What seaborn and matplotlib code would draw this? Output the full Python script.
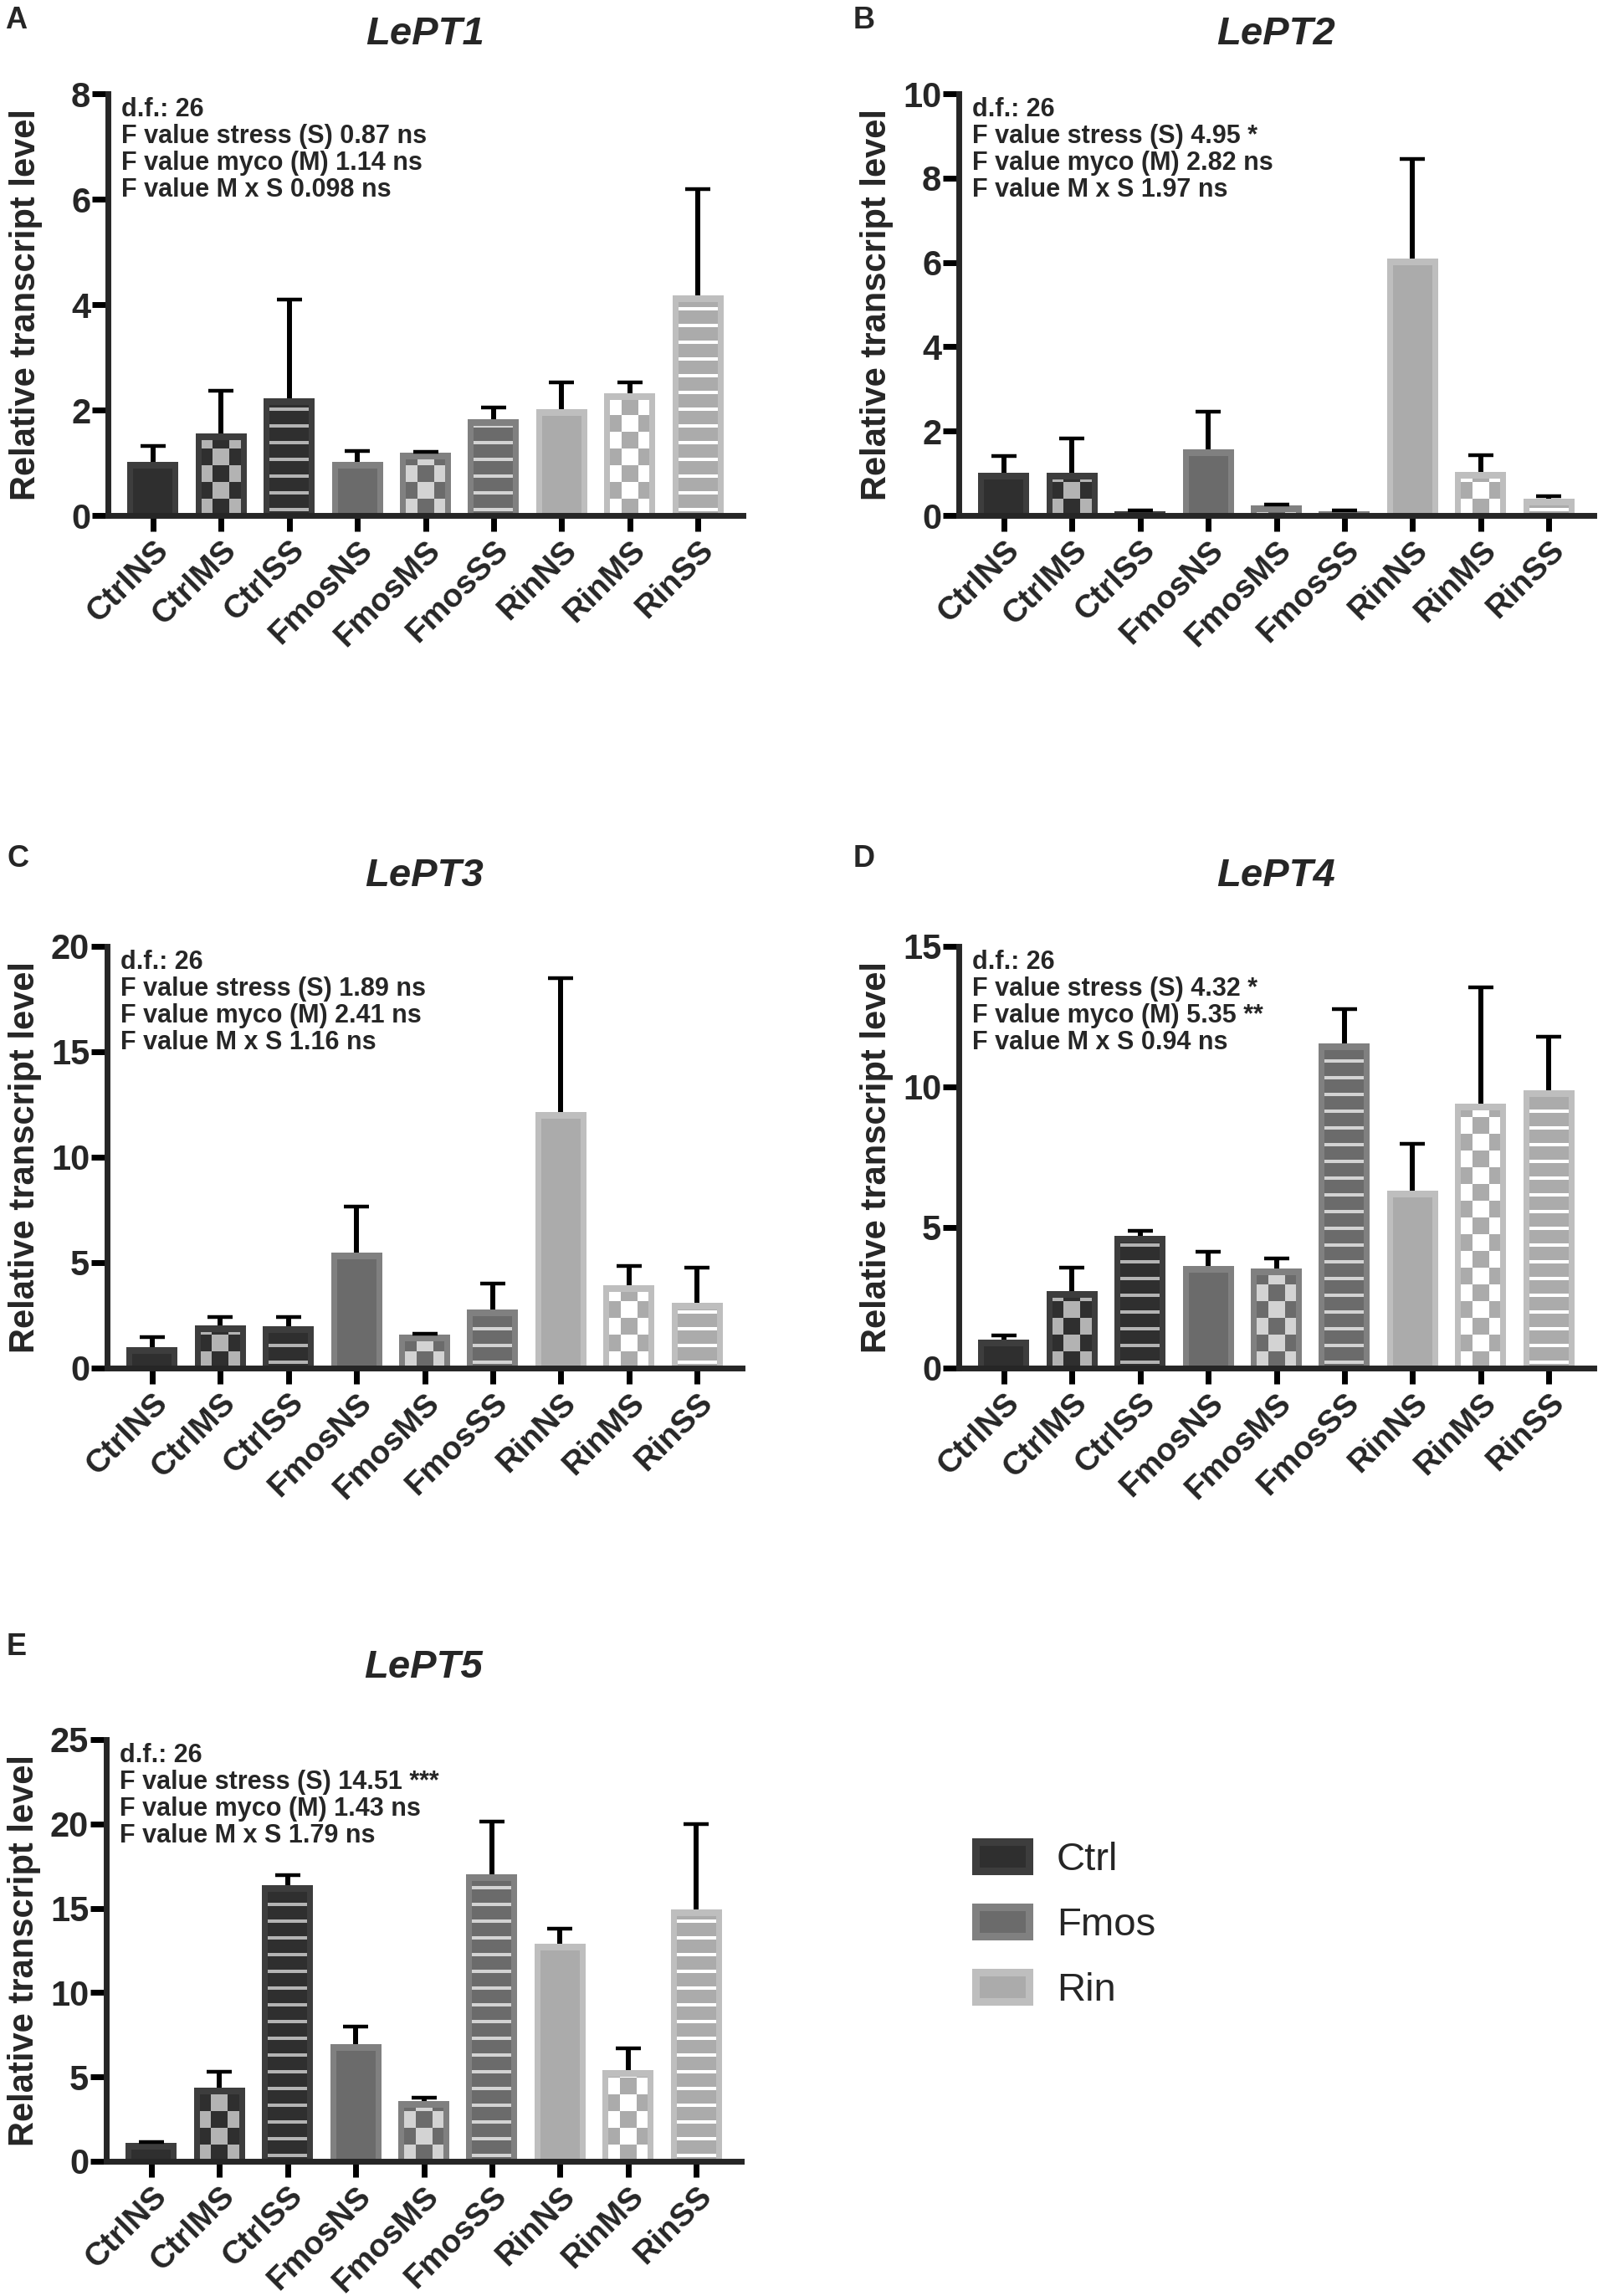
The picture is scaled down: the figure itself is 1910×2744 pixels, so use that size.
import numpy as np
import pandas as pd
import seaborn as sns
import matplotlib.pyplot as plt
from matplotlib.patches import Rectangle, Patch

# ---- data ----
conditions = ["CtrlNS", "CtrlMS", "CtrlSS", "FmosNS", "FmosMS", "FmosSS", "RinNS", "RinMS", "RinSS"]
groups = ["Ctrl"] * 3 + ["Fmos"] * 3 + ["Rin"] * 3
stress = ["NS", "MS", "SS"] * 3

lept1_mean = [1.02, 1.55, 2.22, 1.01, 1.19, 1.83, 2.01, 2.31, 4.17]
lept1_se = [0.29, 0.81, 1.87, 0.22, 0.02, 0.22, 0.51, 0.21, 2.02]
lept2_mean = [1.02, 1.02, 0.10, 1.56, 0.23, 0.10, 6.09, 1.04, 0.40]
lept2_se = [0.38, 0.80, 0.01, 0.91, 0.02, 0.01, 2.36, 0.38, 0.06]
lept3_mean = [1.01, 2.02, 1.98, 5.47, 1.58, 2.79, 12.15, 3.91, 3.10]
lept3_se = [0.47, 0.41, 0.45, 2.18, 0.04, 1.20, 6.33, 0.95, 1.66]
lept4_mean = [1.00, 2.74, 4.71, 3.62, 3.54, 11.55, 6.31, 9.39, 9.89]
lept4_se = [0.16, 0.83, 0.17, 0.53, 0.35, 1.23, 1.67, 4.15, 1.90]
lept5_mean = [1.07, 4.35, 16.35, 6.96, 3.55, 17.01, 12.88, 5.41, 14.93]
lept5_se = [0.05, 0.98, 0.61, 1.04, 0.21, 3.15, 0.93, 1.28, 5.07]

lept1_stats = ["d.f.: 26", "F value stress (S) 0.87 ns", "F value myco (M) 1.14 ns", "F value M x S 0.098 ns"]
lept2_stats = ["d.f.: 26", "F value stress (S) 4.95 *", "F value myco (M) 2.82 ns", "F value M x S 1.97 ns"]
lept3_stats = ["d.f.: 26", "F value stress (S) 1.89 ns", "F value myco (M) 2.41 ns", "F value M x S 1.16 ns"]
lept4_stats = ["d.f.: 26", "F value stress (S) 4.32 *", "F value myco (M) 5.35 **", "F value M x S 0.94 ns"]
lept5_stats = ["d.f.: 26", "F value stress (S) 14.51 ***", "F value myco (M) 1.43 ns", "F value M x S 1.79 ns"]

# colours: outer border, inner fill, pattern
edge_col = {"Ctrl": "#3d3d3d", "Fmos": "#808080", "Rin": "#bebebe"}
fill_col = {"Ctrl": "#2f2f2f", "Fmos": "#6b6b6b", "Rin": "#ababab"}
pat_col = {"Ctrl": "#b3b3b3", "Fmos": "#d3d3d3", "Rin": "#ffffff"}

W, H = 1910, 2744
NARROW = ["Liberation Sans Narrow", "Liberation Sans", "DejaVu Sans"]
ARIAL = ["Liberation Sans", "DejaVu Sans"]

sns.set_style("ticks")
plt.rcParams["font.family"] = ARIAL


def px_rect(left, top, right, bottom):
    return [left / W, 1 - bottom / H, (right - left) / W, (bottom - top) / H]


def draw_panel(ax, means, ses, ymax, ystep, stats):
    df = pd.DataFrame({"cond": conditions, "group": groups, "mean": means})
    sns.barplot(data=df, x="cond", y="mean", hue="group", palette=edge_col,
                dodge=False, width=0.75, saturation=1, errorbar=None,
                legend=False, linewidth=0, ax=ax)
    ax.set_xlim(-0.66, 8.66)
    ax.set_ylim(0, ymax)

    pos = ax.get_position()
    dx = 9.32 / (pos.width * W)   # data units per pixel
    dy = ymax / (pos.height * H)

    for p in list(ax.patches):
        xc = p.get_x() + p.get_width() / 2
        i = int(round(xc))
        g, st = groups[i], stress[i]
        x0 = p.get_x() + 7 * dx
        w = p.get_width() - 14 * dx
        h = max(p.get_height() - 8 * dy, 0)
        inner = Rectangle((x0, 0), w, h, facecolor=fill_col[g], edgecolor="none", zorder=2.1)
        ax.add_patch(inner)
        if st == "SS":
            y = 5 * dy
            while y < h:
                r = Rectangle((x0, y), w, 4 * dy, facecolor=pat_col[g], edgecolor="none", zorder=2.2)
                ax.add_patch(r)
                r.set_clip_path(inner)
                y += 20 * dy
        elif st == "MS":
            sx, sy = 20 * dx, 20 * dy
            nrow = int(h / sy) + 1
            for j in range(-2, 3):
                for k in range(nrow):
                    if (j + k) % 2 == 1:
                        r = Rectangle((xc - sx / 2 + j * sx, k * sy), sx, sy,
                                      facecolor=pat_col[g], edgecolor="none", zorder=2.2)
                        ax.add_patch(r)
                        r.set_clip_path(inner)

    eb = ax.errorbar(np.arange(9), means, yerr=[np.zeros(9), ses], fmt="none",
                     ecolor="black", elinewidth=4.3, capsize=11, capthick=3.2, zorder=5)
    for cl in eb[1]:
        if np.allclose(cl.get_ydata(), means):
            cl.set_visible(False)

    sns.despine(ax=ax)
    for s in ["left", "bottom"]:
        ax.spines[s].set_linewidth(5)
        ax.spines[s].set_capstyle("projecting")
    ax.tick_params(axis="both", length=14, width=5, color="black")
    ax.tick_params(axis="y", pad=1)
    ax.tick_params(axis="x", pad=3)
    ax.set_yticks(np.arange(0, ymax + 0.01, ystep))
    ax.set_yticklabels([f"{v:g}" for v in np.arange(0, ymax + 0.01, ystep)],
                       fontsize=30, fontweight="bold", family=NARROW)
    ax.set_xticks(range(9))
    ax.set_xticklabels(conditions, rotation=45, ha="right", rotation_mode="anchor",
                       fontsize=28, fontweight="bold", family=NARROW)
    ax.set_xlabel("")
    ax.set_ylabel("Relative transcript level", fontsize=30, fontweight="bold", family=ARIAL)
    ax.yaxis.set_label_coords(-78 / 759, 0.5)

    for k, line in enumerate(stats):
        ax.text(16 / 759, 1 - (27 + 32 * k) / 504, line, transform=ax.transAxes,
                va="baseline", ha="left", fontsize=22, fontweight="bold", family=NARROW)


fig = plt.figure(figsize=(W / 100, H / 100), dpi=100)

panels = [
    ("A", "LePT1", lept1_mean, lept1_se, 8, 2, lept1_stats, (129, 112, 888, 616), 41, (6, 24)),
    ("B", "LePT2", lept2_mean, lept2_se, 10, 2, lept2_stats, (1146, 112, 1905, 616), 41, (1020, 24)),
    ("C", "LePT3", lept3_mean, lept3_se, 20, 5, lept3_stats, (128, 1131, 887, 1635), 1047, (8, 1026)),
    ("D", "LePT4", lept4_mean, lept4_se, 15, 5, lept4_stats, (1146, 1131, 1905, 1635), 1047, (1020, 1026)),
    ("E", "LePT5", lept5_mean, lept5_se, 25, 5, lept5_stats, (127, 2079, 886, 2583), 1993, (8, 1968)),
]

for letter, gene, means, ses, ymax, ystep, stats, rect, title_y, letter_xy in panels:
    ax = fig.add_axes(px_rect(*rect))
    draw_panel(ax, means, ses, ymax, ystep, stats)
    fig.text((rect[0] + rect[2]) / 2 / W, 1 - title_y / H, gene, ha="center", va="center",
             fontsize=34, fontweight="bold", fontstyle="italic", family=ARIAL)
    fig.text(letter_xy[0] / W, 1 - letter_xy[1] / H, letter, ha="left", va="center",
             fontsize=26, fontweight="bold", family=ARIAL)

handles = [Patch(facecolor=fill_col[g], edgecolor=edge_col[g], linewidth=6.5, label=g)
           for g in ["Ctrl", "Fmos", "Rin"]]
fig.legend(handles=handles, loc="upper left", bbox_to_anchor=(1166 / W, 1 - 2201 / H),
           frameon=False, prop={"family": ARIAL, "size": 34}, handlelength=1.35,
           handleheight=0.75, handletextpad=0.7, labelspacing=0.72, borderpad=0,
           borderaxespad=0)

fig.savefig("out.png", dpi=100, facecolor="white")
